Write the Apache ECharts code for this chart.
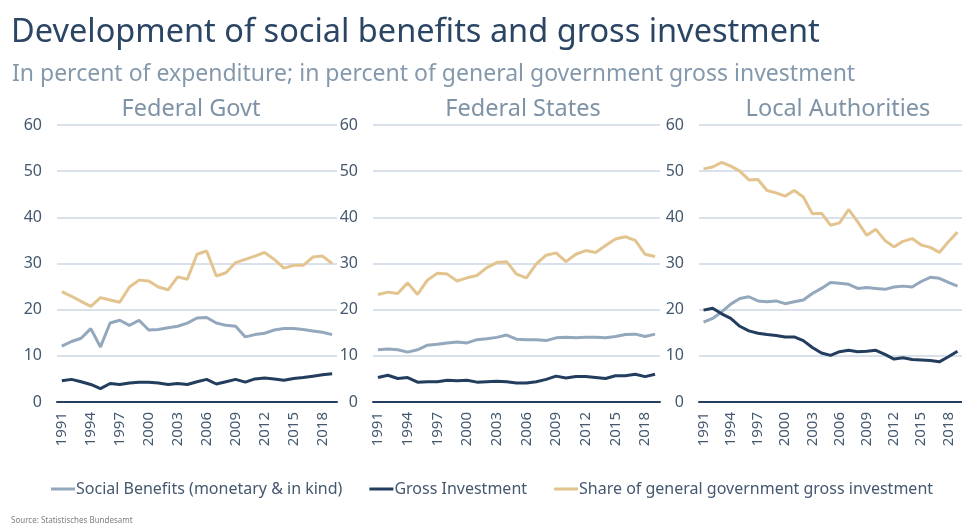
<!DOCTYPE html>
<html lang="en">
  <head>
    <meta charset="UTF-8" />
    <title>Development of social benefits and gross investment</title>
    <script src="https://cdn.jsdelivr.net/npm/echarts@6/dist/echarts.min.js"></script>
    <style>
      html, body { margin: 0; padding: 0; background: #fff; }
      #chart { width: 962px; height: 525px; }
    </style>
  </head>
  <body>
    <div id="chart"></div>
  </body>
</html>
<script>
  // years 1991..2019
  const years = ["1991","1992","1993","1994","1995","1996","1997","1998","1999","2000",
    "2001","2002","2003","2004","2005","2006","2007","2008","2009","2010",
    "2011","2012","2013","2014","2015","2016","2017","2018","2019"];
  const yTicks = [0, 10, 20, 30, 40, 50, 60];
  const panelNames = ["Federal Govt", "Federal States", "Local Authorities"];
  const seriesNames = ["Social Benefits (monetary & in kind)", "Gross Investment", "Share of general government gross investment"];

  // Federal Govt
  const fedSocial = [12.1,13.1,13.8,15.9,11.9,17.1,17.7,16.6,17.7,15.6,15.7,16.1,16.4,17.1,18.2,18.3,17.1,16.6,16.4,14.1,14.6,14.9,15.6,15.9,15.9,15.7,15.4,15.1,14.6];
  const fedInvest = [4.6,4.9,4.4,3.8,2.9,4.0,3.8,4.1,4.3,4.3,4.1,3.8,4.0,3.8,4.4,4.9,3.9,4.4,4.9,4.3,5.0,5.2,5.0,4.7,5.1,5.3,5.6,5.9,6.1];
  const fedShare = [23.9,22.9,21.8,20.7,22.6,22.1,21.6,24.9,26.4,26.2,24.9,24.3,27.1,26.6,32.0,32.7,27.3,28.0,30.2,30.9,31.6,32.4,30.9,29.0,29.6,29.6,31.4,31.6,30.0];

  // Federal States
  const stSocial = [11.3,11.5,11.3,10.8,11.3,12.3,12.5,12.8,13.0,12.8,13.5,13.7,14.0,14.5,13.6,13.5,13.5,13.3,13.9,14.0,13.9,14.0,14.0,13.9,14.2,14.6,14.7,14.2,14.7];
  const stInvest = [5.3,5.8,5.1,5.3,4.3,4.4,4.4,4.7,4.6,4.7,4.3,4.4,4.5,4.4,4.1,4.1,4.4,4.9,5.6,5.2,5.5,5.5,5.3,5.1,5.7,5.7,6.0,5.5,6.0];
  const stShare = [23.3,23.8,23.5,25.8,23.3,26.4,27.9,27.7,26.2,26.9,27.4,29.1,30.2,30.4,27.7,26.9,29.9,31.8,32.3,30.4,32.0,32.8,32.4,33.9,35.3,35.8,35.0,32.0,31.5];

  // Local Authorities
  const locSocial = [17.3,18.1,19.5,21.2,22.4,22.8,21.9,21.7,21.9,21.3,21.7,22.1,23.5,24.6,25.9,25.7,25.5,24.6,24.8,24.6,24.4,24.9,25.1,24.9,26.1,27.0,26.8,25.9,25.1];
  const locInvest = [19.9,20.3,19.1,18.1,16.4,15.4,14.9,14.6,14.4,14.1,14.1,13.3,11.8,10.6,10.1,10.9,11.2,10.9,11.0,11.2,10.3,9.3,9.6,9.2,9.1,9.0,8.7,9.8,11.0];
  const locShare = [50.5,50.9,51.9,51.1,50.0,48.1,48.2,45.8,45.3,44.6,45.8,44.4,40.8,40.9,38.3,38.8,41.7,39.0,36.1,37.4,35.0,33.6,34.8,35.4,34.0,33.5,32.4,34.7,36.8];

  const panelData = [
    [fedSocial, fedInvest, fedShare],
    [stSocial, stInvest, stShare],
    [locSocial, locInvest, locShare],
  ];
  const colors = ["#93a8bd", "#223d5e", "#e3c48f"];
  const fontFamily = "'Noto Sans', sans-serif";
  const labelColor = "#44586f";

  // panel grid placement
  const grids = [
    { left: 57, top: 125, width: 280, height: 277 },
    { left: 373, top: 125, width: 287, height: 277 },
    { left: 699, top: 125, width: 268, height: 277 },
  ];
  const panelCenters = [186, 518, 833];

  const chart = echarts.init(document.getElementById("chart"));

  const titles = [
    {
      text: "Development of social benefits and gross investment",
      left: 6, top: 11,
      textStyle: { fontFamily, fontSize: 32.5, fontWeight: "normal", color: "#2b4564" },
    },
    {
      text: "In percent of expenditure; in percent of general government gross investment",
      left: 7, top: 58,
      textStyle: { fontFamily, fontSize: 23, fontWeight: "normal", color: "#8599ad" },
    },
    {
      text: "Source: Statistisches Bundesamt",
      left: 6, top: 512,
      textStyle: { fontFamily, fontSize: 8, fontWeight: "normal", color: "#7f7f7f" },
    },
  ];
  panelNames.forEach((name, i) => {
    titles.push({
      text: name,
      left: panelCenters[i], top: 92, textAlign: "center",
      textStyle: { fontFamily, fontSize: 23.5, fontWeight: "normal", color: "#7f93a7" },
    });
  });

  const series = [];
  panelData.forEach((arrs, p) => {
    arrs.forEach((vals, s) => {
      series.push({
        name: seriesNames[s],
        type: "line",
        xAxisIndex: p,
        yAxisIndex: p,
        data: vals,
        symbol: "none",
        lineStyle: { width: 3, color: colors[s] },
        itemStyle: { color: colors[s] },
        z: s === 1 ? 4 : 3,
      });
    });
  });

  const option = {
    backgroundColor: "#fff",
    animation: false,
    title: titles,
    legend: {
      data: seriesNames,
      left: 46, top: 476,
      icon: "rect",
      itemWidth: 24, itemHeight: 3,
      itemGap: 27,
      textStyle: { fontFamily, fontSize: 16, color: labelColor, padding: [0, 0, 0, -4] },
    },
    grid: grids,
    xAxis: grids.map((g, i) => ({
      type: "category",
      gridIndex: i,
      data: years,
      boundaryGap: true,
      axisLine: { lineStyle: { color: "#243f60", width: 2 } },
      axisTick: { show: false },
      axisLabel: { rotate: 90, interval: 2, fontFamily, fontSize: 15, color: labelColor, margin: 10 },
    })),
    yAxis: grids.map((g, i) => ({
      type: "value",
      gridIndex: i,
      min: yTicks[0], max: yTicks[yTicks.length - 1], interval: 10,
      axisLine: { show: false },
      axisTick: { show: false },
      axisLabel: { fontFamily, fontSize: 16, color: labelColor, margin: 15 },
      splitLine: { lineStyle: { color: "#cdd8e3", width: 1.5 } },
    })),
    series: series,
  };
  chart.setOption(option);
</script>
